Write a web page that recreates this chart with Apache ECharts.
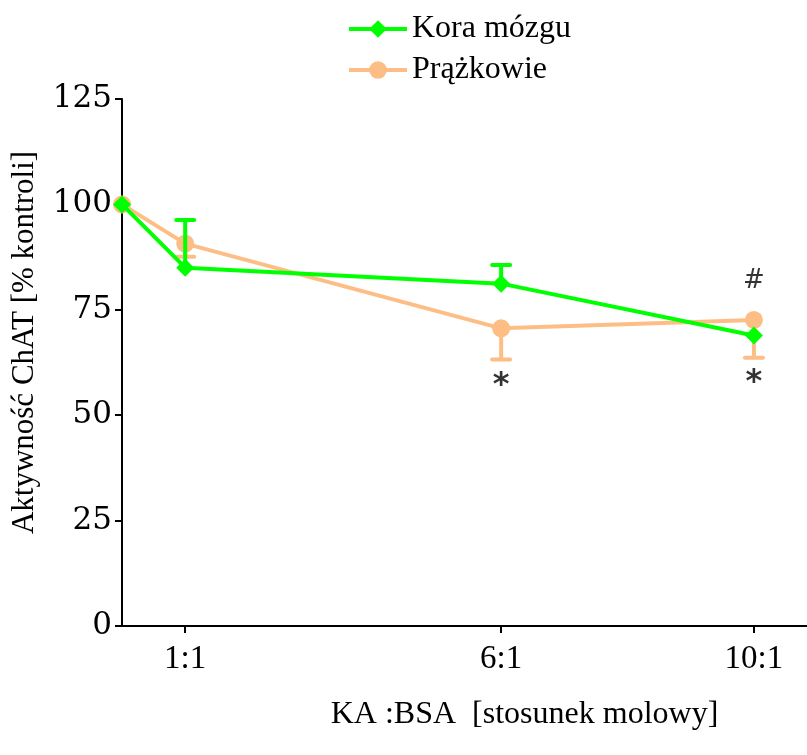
<!DOCTYPE html>
<html><head><meta charset="utf-8">
<script src="https://cdn.jsdelivr.net/npm/echarts@6/dist/echarts.min.js"></script>
<style>html,body{margin:0;padding:0;background:#fff}#c{width:807px;height:755px}</style>
</head><body><div id="c"></div>
<script>
// data
const xValues = [0, 1, 6, 10];
const tickValues = [1, 6, 10];
const tickLabels = ['1:1', '6:1', '10:1'];
const koraValues = [100, 85, 81.2, 68.9];
const koraErrTop = [null, 96.3, 85.6, null];
const strValues = [100, 90.7, 70.6, 72.6];
const strErrBottom = [null, 87.6, 63.2, 63.6];
const annX = [6, 10, 10];
const annY = [57.0, 57.7, 81.8];
const annText = ['*', '*', '#'];

const GREEN = '#00ff00', ORANGE = '#fdbe85';
const serif = 'Liberation Serif';

function pairs(xs, ys){ return xs.map((x,i)=>[x, ys[i]]); }
function errData(xs, c, e){ const out=[]; xs.forEach((x,i)=>{ if(e[i]!=null) out.push([x, c[i], e[i]]); }); return out; }
function errRender(color){
  return function(params, api){
    const x = api.value(0), c = api.value(1), e = api.value(2);
    const p0 = api.coord([x, c]), p1 = api.coord([x, e]);
    const hw = 9;
    return {type:'group', children:[
      {type:'line', shape:{x1:p0[0], y1:p0[1], x2:p1[0], y2:p1[1]}, style:{stroke:color, lineWidth:4}},
      {type:'line', shape:{x1:p1[0]-hw, y1:p1[1], x2:p1[0]+hw, y2:p1[1]}, style:{stroke:color, lineWidth:4, lineCap:'round'}}
    ]};
  };
}

const chart = echarts.init(document.getElementById('c'), null, {renderer:'canvas'});
chart.setOption({
  animation:false,
  backgroundColor:'#fff',
  grid:{left:122, right:0, top:99, bottom:129, containLabel:false},
  legend:{
    orient:'vertical', left:342, top:8, itemWidth:58, itemHeight:22, itemGap:9,
    data:['Kora mózgu','Prążkowie'],
    lineStyle:{width:4},
    textStyle:{fontFamily:serif, fontSize:32, color:'#000'}
  },
  xAxis:{
    type:'value', min:0, max:10.84,
    name:'KA :BSA  [stosunek molowy]', nameLocation:'middle', nameGap:73,
    nameTextStyle:{fontFamily:serif, fontSize:32, color:'#000', padding:[0,0,0,120]},
    axisLine:{show:true, onZero:false, lineStyle:{color:'#000', width:2}},
    axisTick:{show:true, length:7, customValues:tickValues, lineStyle:{color:'#000', width:2}},
    axisLabel:{show:true, customValues:tickValues, margin:17, fontFamily:serif, fontSize:33, color:'#000',
      formatter:(v)=>{const i=tickValues.indexOf(v); return i>=0?tickLabels[i]:'';}},
    splitLine:{show:false}
  },
  yAxis:{
    type:'value', min:0, max:125, interval:25,
    name:'Aktywność ChAT [% kontroli]', nameLocation:'middle', nameGap:82,
    nameTextStyle:{fontFamily:serif, fontSize:31, color:'#000', padding:[0,0,0,40]},
    axisLine:{show:true, lineStyle:{color:'#000', width:2}},
    axisTick:{show:true, length:7, lineStyle:{color:'#000', width:2}},
    axisLabel:{margin:10, fontFamily:'DejaVu Serif', fontSize:31, color:'#000'},
    splitLine:{show:false}
  },
  series:[
    {type:'custom', name:'errStr', renderItem:errRender(ORANGE), data:errData(xValues, strValues, strErrBottom), z:2, silent:true},
    {type:'line', name:'Prążkowie', data:pairs(xValues, strValues), color:ORANGE,
      lineStyle:{width:4, color:ORANGE}, symbol:'circle', symbolSize:18, itemStyle:{color:ORANGE}, z:3},
    {type:'custom', name:'errKora', renderItem:errRender(GREEN), data:errData(xValues, koraValues, koraErrTop), z:4, silent:true},
    {type:'line', name:'Kora mózgu', data:pairs(xValues, koraValues), color:GREEN,
      lineStyle:{width:4, color:GREEN}, symbol:'diamond', symbolSize:18, itemStyle:{color:GREEN}, z:5},
    {type:'scatter', name:'ann', data:pairs(annX, annY).map((p,i)=>({value:p, label:{formatter:annText[i], fontWeight: annText[i]==='*'?'bold':'normal', fontSize: annText[i]==='*'?32:26}})),
      symbolSize:0, silent:true,
      label:{show:true, position:'inside', fontFamily:'DejaVu Sans', color:'#000'}}
  ]
});
</script></body></html>
